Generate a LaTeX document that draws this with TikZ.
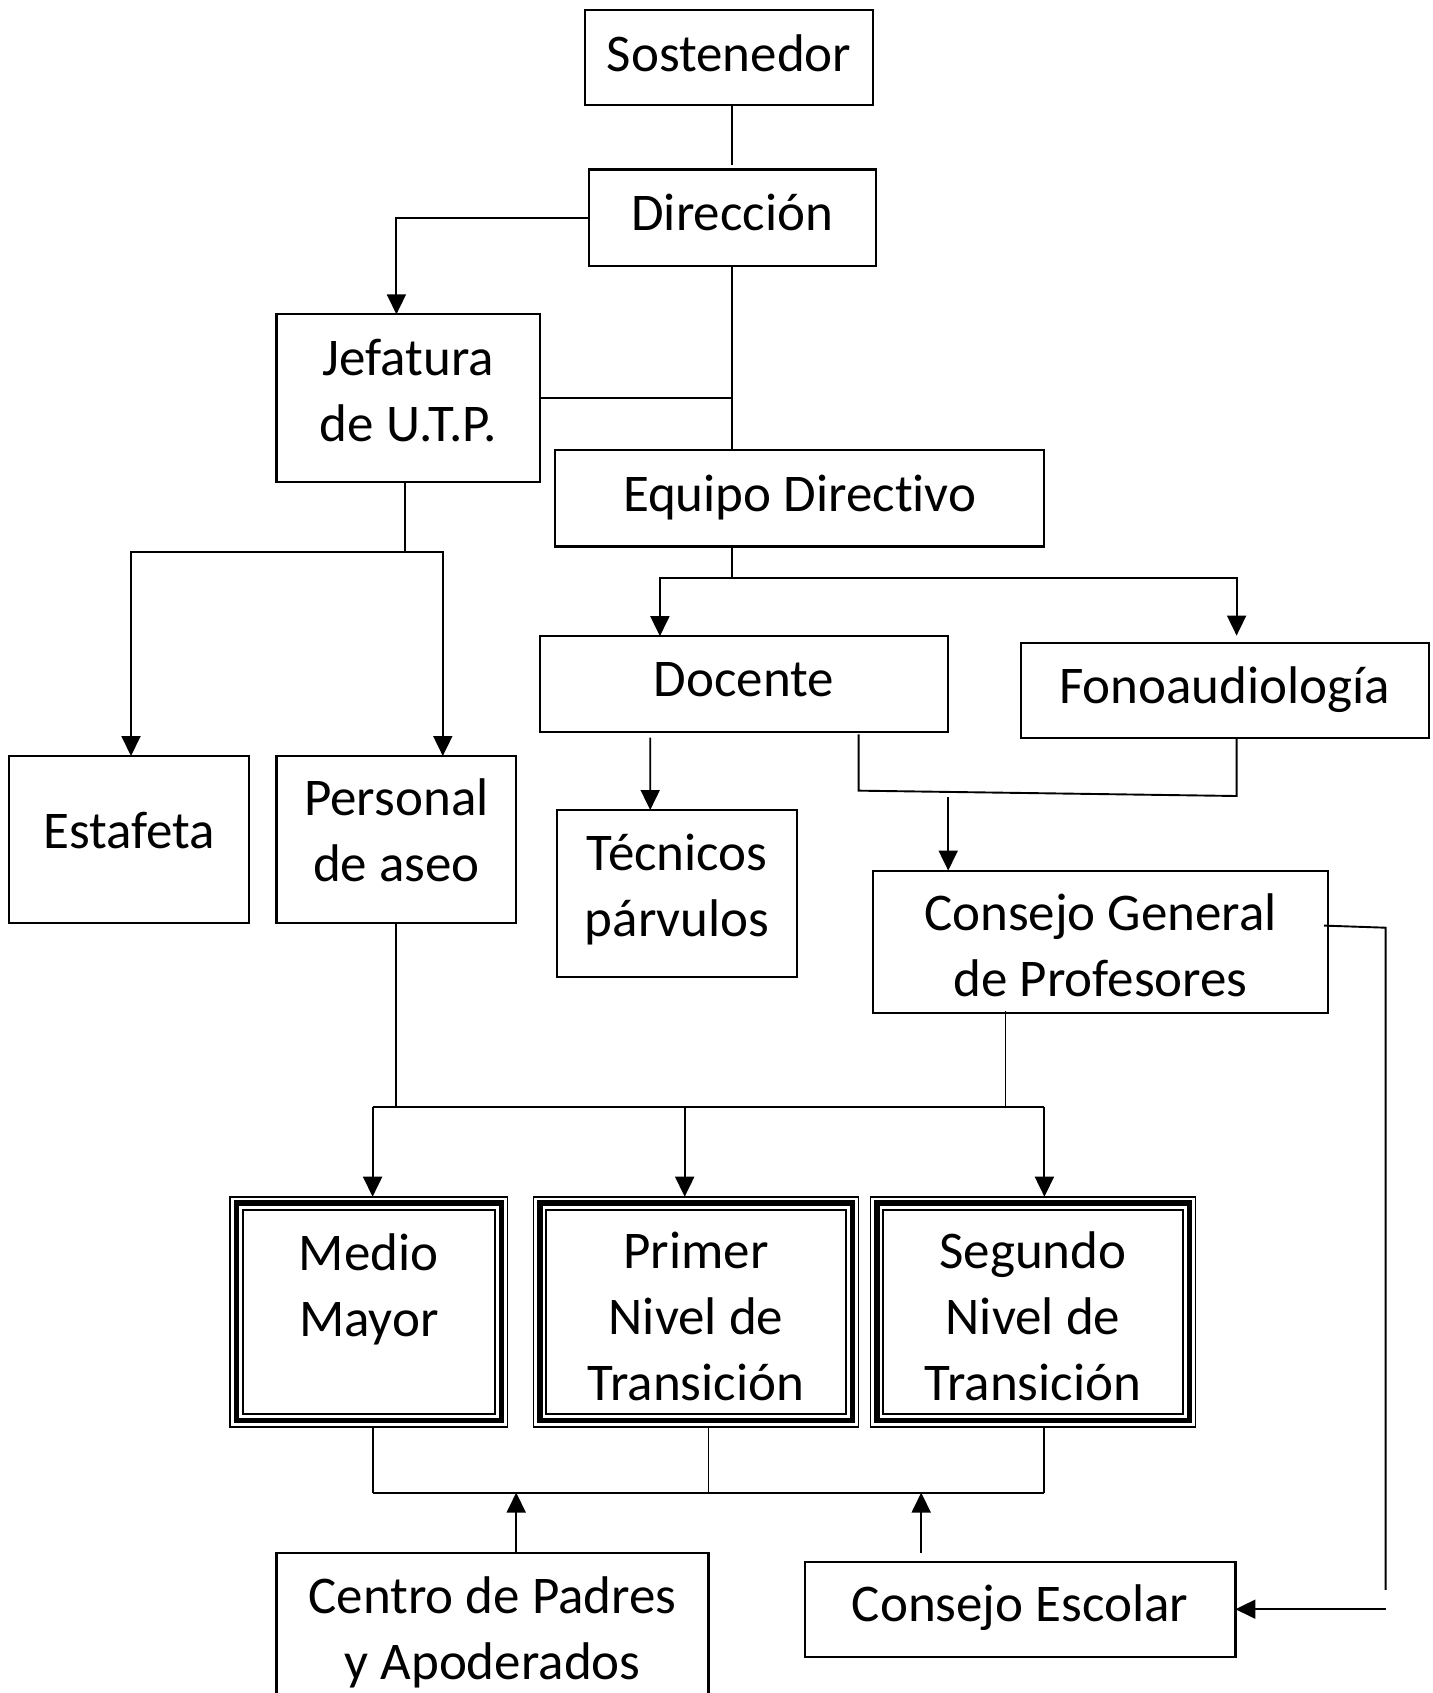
\documentclass[tikz,border=0pt]{standalone}
\usepackage{fontspec}
\setmainfont{Carlito}[Ligatures=NoCommon]
\usetikzlibrary{arrows.meta,calc}
\begin{document}
\begin{tikzpicture}[x=1pt,y=-1pt,
  box/.style={draw, line width=2.1pt, inner sep=0pt, outer sep=0pt, align=center, font=\fontsize{53}{66}\selectfont, text depth=0pt},
  level/.style={box, line width=1.6pt, minimum height=230pt},
  ln/.style={line width=1.9pt},
  arr/.style={line width=1.9pt, -{Triangle[width=19pt,length=20pt]}},
  thickframe/.style={line width=5.5pt},
  innerframe/.style={line width=2pt}
  ]
\useasboundingbox[fill=white] (0,0) rectangle (1432,1693);

\node[box, text height=29pt, minimum width=287.3pt, minimum height=95pt] (sost) at (729,57.2) {Sostenedor};
\node[box, text height=26.2pt, minimum width=287.3pt, minimum height=96.1pt] (dir) at (732.2,217.6) {Dirección};
\node[box, text height=86pt, minimum width=263.5pt, minimum height=167.4pt] (jef) at (408.2,398) {Jefatura\\de U.T.P.};
\node[box, text height=26.6pt, minimum width=489.2pt, minimum height=96.1pt] (eq) at (799.7,498.4) {Equipo Directivo};
\node[box, text height=17.2pt, minimum width=240.8pt, minimum height=167.4pt] (est) at (129,839.7) {Estafeta};
\node[box, text height=82.6pt, minimum width=239.8pt, minimum height=167.4pt] (pers) at (396.4,839.7) {Personal\\de aseo};
\node[box, text height=25pt, minimum width=408.2pt, minimum height=96.1pt] (doc) at (744.1,684.2) {Docente};
\node[box, text height=27.4pt, minimum width=408.2pt, minimum height=95pt] (fono) at (1224.7,690.1) {Fonoaudiología};
\node[box, text height=84.6pt, minimum width=239.8pt, minimum height=167.4pt] (tec) at (677.2,893.7) {Técnicos\\párvulos};
\node[box, text height=108.4pt, minimum width=455.8pt, minimum height=142.5pt] (cgp) at (1100.5,941.8) {Consejo General\\de Profesores};
\node[level, text height=48.6pt, minimum width=277.6pt] (mm) at (368.8,1311.7) {Medio\\Mayor};
\node[level, text height=176.6pt, minimum width=325.1pt] (pn) at (696,1311.7) {Primer\\Nivel de\\Transición};
\node[level, text height=176.6pt, minimum width=325.1pt] (sn) at (1033,1311.7) {Segundo\\Nivel de\\Transición};
\node[box, text height=99.4pt, minimum width=432pt, minimum height=154pt] (cpa) at (492.5,1630) {Centro de Padres\\y Apoderados};
\node[box, text height=24.2pt, minimum width=430.9pt, minimum height=95pt] (ce) at (1020,1609.2) {Consejo Escolar};

\foreach \n in {mm,pn,sn}{
  \draw[thickframe] ($(\n.north west)+(6.3pt,-6.3pt)$) rectangle ($(\n.south east)+(-6.3pt,6.3pt)$);
  \draw[innerframe] ($(\n.north west)+(13pt,-13pt)$) rectangle ($(\n.south east)+(-13pt,13pt)$);
}

% top
\draw[ln] (sost.south -| dir.north) -- ([yshift=5pt]dir.north);
\draw[arr] (dir.west) -| ([xshift=-11.8pt]jef.north);
\draw[ln] (dir.south) -- (dir.south |- eq.north);
\draw[ln] (jef.east) -- (jef.east -| dir.south);

% jefatura branch
\coordinate (jb) at ($(jef.south)+(-3pt,-70pt)$);
\draw[ln] ([xshift=-3pt]jef.south) -- (jb);
\draw[arr] (jb) -| ([xshift=2pt]est.north);
\draw[arr] (jb) -| ([xshift=46.4pt]pers.north);

% equipo branch
\coordinate (eb) at ($(dir.south |- eq.south)+(0,-31.3pt)$);
\draw[ln] (dir.south |- eq.south) -- (eb);
\draw[arr] (eb) -| ([xshift=-84.2pt]doc.north);
\draw[arr] (eb) -| ([xshift=11.9pt,yshift=7pt]fono.north);

% docente -> tecnicos
\draw[arr] ([xshift=-93.9pt,yshift=-5.4pt]doc.south) -- ([xshift=-27pt]tec.north);

% docente / fono join
\coordinate (d1) at ($(doc.south)+(114.5pt,-58.4pt)$);
\coordinate (f1) at ($(fono.south)+(11.9pt,-58.4pt)$);
\draw[ln] ([xshift=114.5pt,yshift=-2pt]doc.south) -- (d1) -- (f1) -- ([xshift=11.9pt]fono.south);
\coordinate (c0) at ($(cgp.north)+(-152.3pt,73.5pt)$);
\draw[arr] (c0) -- ([xshift=-152.3pt]cgp.north);

% consejo general -> consejo escolar
\coordinate (r1) at ($(cgp.east)+(57.2pt,14.1pt)$);
\coordinate (r2) at (r1 |- 0,1589.8);
\draw[ln] ($(cgp.east)+(-4.4pt,16.2pt)$) -- (r1) -- (r2);
\coordinate (r3) at ($(ce.east)+(150.1pt,0pt)$);
\draw[arr] (r3) -- (ce.east);

% middle bus
\coordinate (cb) at ($(cgp.south)+(-95pt,-94pt)$);
\draw[ln] ([xshift=-95pt,yshift=2pt]cgp.south) -- (cb);
\draw[ln] (pers.south) -- (pers.south |- cb);
\draw[ln] ([xshift=3.8pt]mm.north |- cb) -- ([xshift=11.4pt]sn.north |- cb);
\draw[arr] ([xshift=3.8pt]mm.north |- cb) -- ([xshift=3.8pt]mm.north);
\draw[arr] ([xshift=-11.3pt]pn.north |- cb) -- ([xshift=-11.3pt]pn.north);
\draw[arr] ([xshift=11.4pt]sn.north |- cb) -- ([xshift=11.4pt]sn.north);

% bottom bus
\coordinate (bb) at ($(mm.south)+(3.8pt,-65.9pt)$);
\draw[ln] ([xshift=3.8pt]mm.south) -- (bb);
\draw[ln] ([xshift=12.5pt]pn.south) -- ([xshift=12.5pt]pn.south |- bb);
\draw[ln] ([xshift=11.4pt]sn.south) -- ([xshift=11.4pt]sn.south |- bb);
\draw[ln] (bb) -- ([xshift=11.4pt]sn.south |- bb);
\draw[arr] ([xshift=23.7pt]cpa.north) -- ([xshift=23.7pt]cpa.north |- bb);
\coordinate (ce0) at ($(ce.north)+(-98.8pt,8.7pt)$);
\draw[arr] (ce0) -- (ce0 |- bb);
\end{tikzpicture}
\end{document}
